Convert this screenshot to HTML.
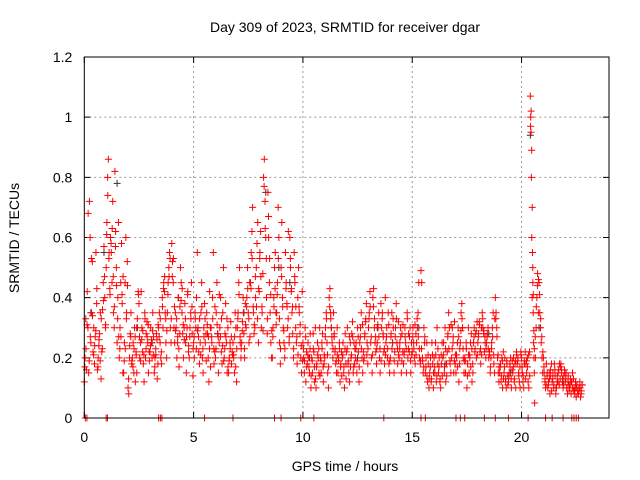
<!DOCTYPE html>
<html><head><meta charset="utf-8"><style>
body{margin:0;background:#fff;}
svg{display:block;font-family:"Liberation Sans",sans-serif;}
</style></head><body>
<svg id="chart" width="640" height="480">
<rect width="640" height="480" fill="#fff"/>
<text x="345" y="32" text-anchor="middle" font-size="14">Day 309 of 2023, SRMTID for receiver dgar</text>
<text x="345" y="471" text-anchor="middle" font-size="14">GPS time / hours</text>
<text transform="translate(19,238) rotate(-90)" text-anchor="middle" font-size="14">SRMTID / TECUs</text>
<g id="grid"></g>
<g id="ticks"></g>
<g id="black"></g>
<g id="red"></g>
<rect x="84.3" y="57" width="524.7" height="361" fill="none" stroke="#000" stroke-width="1"/>
</svg>
<script>
const xTicks=[0,5,10,15,20];
const yTicks=[0,0.2,0.4,0.6,0.8,1,1.2];
const yTickLabels=["0","0.2","0.4","0.6","0.8","1","1.2"];
const slotTimes=[0,0.2,0.4,0.6,0.8,1,1.2,1.4,1.6,1.8,2,2.2,2.4,2.6,2.8,3,3.2,3.4,3.6,3.8,4,4.2,4.4,4.6,4.8,5,5.2,5.4,5.6,5.8,6,6.2,6.4,6.6,6.8,7,7.2,7.4,7.6,7.8,8,8.2,8.4,8.6,8.8,9,9.2,9.4,9.6,9.8,10,10.2,10.4,10.6,10.8,11,11.2,11.4,11.6,11.8,12,12.2,12.4,12.6,12.8,13,13.2,13.4,13.6,13.8,14,14.2,14.4,14.6,14.8,15,15.2,15.4,15.6,15.8,16,16.2,16.4,16.6,16.8,17,17.2,17.4,17.6,17.8,18,18.2,18.4,18.6,18.8,19,19.2,19.4,19.6,19.8,20,20.2,20.4,20.5,20.6,20.8,21,21.2,21.4,21.6,21.8,22,22.2,22.4,22.6];
const redValues=[
[.12,.2,.33,.16,.42,.3],[.15,.72,.6,.25,.35,.52],[.22,.3,.18,.27,.55,.38],[.16,.2,.24,.28,.35,.13],[.22,.36,.45,.57,.4,.3],
[.5,.65,.8,.86,.55,.43],[.6,.55,.45,.72,.35,.3],[.82,.62,.5,.25,.4,.65],[.2,.3,.45,.58,.38,.15],[.15,.25,.45,.6,.35,.52],
[.1,.08,.2,.28,.35,.18],[.2,.25,.15,.3,.12,.22],[.15,.3,.42,.38,.2,.25],[.42,.3,.22,.18,.12,.35],[.2,.28,.32,.25,.15,.22],
[.22,.3,.25,.2,.35,.27],[.15,.2,.23,.28,.13,.18],[.3,.35,.25,.2,.18,.4],[.3,.45,.42,.35,.25,.2],[.35,.45,.5,.55,.3,.25],
[.58,.52,.45,.3,.25,.35],[.3,.2,.25,.4,.17,.28],[.5,.45,.35,.28,.2,.3],[.38,.25,.15,.3,.42,.22],[.2,.3,.35,.45,.28,.14],
[.25,.2,.35,.3,.4,.55],[.3,.22,.18,.25,.35,.45],[.2,.15,.3,.38,.25,.28],[.35,.28,.2,.12,.42,.3],[.3,.25,.4,.55,.18,.22],
[.2,.35,.45,.28,.15,.25],[.3,.4,.22,.18,.35,.5],[.2,.28,.38,.25,.15,.3],[.15,.2,.25,.32,.18,.22],[.25,.2,.15,.35,.3,.12],
[.3,.35,.45,.5,.25,.2],[.25,.32,.4,.28,.2,.38],[.3,.4,.5,.35,.25,.45],[.45,.55,.62,.7,.35,.28],[.3,.4,.5,.58,.65,.25],
[.42,.55,.62,.3,.35,.48],[.8,.86,.72,.6,.4,.28],[.75,.6,.45,.35,.25,.2],[.2,.3,.4,.5,.55,.35],[.35,.45,.7,.6,.25,.18],
[.5,.65,.4,.3,.25,.2],[.55,.45,.38,.3,.62,.25],[.6,.5,.42,.35,.28,.2],[.55,.45,.3,.25,.18,.4],[.5,.35,.28,.2,.15,.42],
[.25,.2,.15,.3,.12,.22],[.18,.25,.2,.15,.28,.1],[.2,.15,.28,.22,.12,.3],[.1,.18,.25,.2,.15,.3],[.2,.15,.25,.28,.12,.18],
[.2,.3,.35,.25,.15,.1],[.4,.43,.35,.3,.25,.2],[.35,.28,.22,.18,.15,.3],[.15,.2,.25,.12,.18,.22],[.2,.25,.15,.1,.28,.18],
[.22,.3,.18,.15,.12,.25],[.2,.28,.32,.15,.25,.18],[.2,.25,.15,.3,.22,.12],[.25,.3,.35,.2,.15,.22],[.2,.28,.32,.38,.25,.18],
[.3,.35,.42,.25,.2,.15],[.4,.43,.3,.25,.22,.18],[.25,.3,.35,.2,.15,.38],[.3,.35,.28,.22,.18,.4],[.25,.3,.2,.35,.18,.15],
[.2,.28,.35,.25,.3,.15],[.22,.3,.38,.25,.18,.32],[.2,.25,.3,.15,.28,.22],[.18,.22,.3,.25,.15,.35],[.2,.28,.22,.3,.15,.25],
[.22,.3,.25,.2,.18,.28],[.25,.3,.35,.45,.2,.18],[.49,.45,.2,.15,.3,.25],[.15,.2,.25,.12,.18,.1],[.15,.2,.12,.25,.18,.1],
[.2,.15,.25,.12,.3,.18],[.15,.2,.12,.1,.18,.25],[.2,.25,.15,.3,.12,.18],[.22,.28,.35,.3,.18,.15],[.2,.3,.25,.15,.32,.18],
[.15,.2,.25,.3,.12,.18],[.25,.35,.38,.3,.2,.15],[.2,.15,.25,.1,.18,.3],[.15,.2,.25,.28,.12,.18],[.25,.3,.22,.28,.2,.32],
[.25,.28,.32,.22,.18,.3],[.35,.3,.28,.22,.25,.2],[.25,.28,.3,.2,.22,.15],[.2,.25,.3,.35,.18,.15],[.4,.35,.3,.2,.15,.12],
[.15,.18,.12,.2,.1,.22],[.15,.2,.12,.1,.18,.14],[.12,.15,.18,.2,.1,.16],[.15,.2,.12,.18,.1,.22],[.18,.2,.15,.12,.1,.22],
[.2,.15,.12,.1,.18,.22],[.18,.15,.2,.12,.1,.22],[1.07,1.0,.95,.8,.6,.4],[.55,.45,.35,.25,.2,.15],[.05,.2,.3,.4,.48,.35],
[.45,.35,.3,.25,.2,.15],[.2,.15,.12,.1,.18,.14],[.1,.12,.15,.08,.14,.18],[.12,.15,.1,.18,.14,.08],[.1,.14,.12,.16,.18,.13],
[.18,.15,.12,.1,.14,.16],[.12,.15,.1,.08,.14,.11],[.1,.13,.08,.12,.15,.09],[.1,.08,.12,.07,.11,.09],[.08,.1,.12,.07,.09,.11]];
const redValues2=[
[.17,.23,.31,.68],[.19,.27,.53,.34],[.21,.24,.29,.43],[.17,.26,.19,.33],[.23,.39,.47,.31],
[.61,.74,.53,.41],[.58,.63,.47,.37],[.57,.44,.33,.27],[.23,.27,.41,.47],[.19,.23,.33,.44],
[.13,.24,.27,.19],[.17,.23,.27,.21],[.33,.41,.27,.19],[.26,.29,.21,.33],[.23,.27,.31,.19],
[.24,.26,.29,.21],[.17,.21,.26,.31],[.27,.33,.22,.37],[.43,.47,.33,.29],[.41,.47,.53,.33],
[.47,.53,.37,.29],[.33,.27,.23,.37],[.39,.43,.31,.26],[.33,.27,.41,.24],[.27,.33,.37,.23],
[.27,.33,.23,.29],[.27,.33,.21,.37],[.23,.27,.33,.19],[.31,.27,.23,.17],[.27,.33,.23,.37],
[.23,.31,.27,.41],[.27,.33,.24,.19],[.23,.27,.33,.17],[.19,.23,.27,.21],[.21,.27,.17,.23],
[.33,.41,.27,.23],[.29,.35,.23,.31],[.37,.43,.33,.27],[.43,.53,.37,.31],[.47,.37,.33,.43],
[.53,.47,.37,.29],[.77,.63,.53,.33],[.67,.53,.41,.29],[.27,.37,.43,.31],[.41,.53,.33,.23],
[.47,.37,.29,.23],[.43,.37,.33,.27],[.53,.43,.37,.23],[.47,.37,.27,.21],[.37,.31,.24,.19],
[.23,.19,.27,.17],[.21,.17,.23,.14],[.19,.23,.17,.13],[.17,.21,.23,.14],[.19,.23,.17,.21],
[.27,.33,.21,.17],[.37,.33,.27,.23],[.27,.23,.19,.21],[.19,.23,.17,.14],[.21,.17,.23,.13],
[.23,.19,.27,.17],[.21,.27,.17,.23],[.23,.19,.27,.17],[.27,.23,.31,.19],[.27,.33,.21,.23],
[.33,.37,.27,.21],[.37,.33,.27,.23],[.31,.27,.23,.19],[.33,.27,.23,.21],[.27,.23,.31,.19],
[.27,.23,.33,.19],[.27,.33,.23,.21],[.23,.27,.19,.31],[.21,.27,.23,.33],[.23,.27,.19,.21],
[.27,.23,.31,.21],[.33,.27,.23,.19],[.23,.19,.17,.27],[.17,.14,.21,.13],[.17,.13,.21,.15],
[.17,.21,.14,.23],[.17,.13,.21,.14],[.21,.17,.23,.14],[.27,.23,.19,.31],[.23,.27,.19,.21],
[.21,.17,.27,.23],[.29,.33,.23,.19],[.19,.23,.14,.21],[.21,.17,.23,.15],[.27,.23,.29,.21],
[.27,.31,.23,.21],[.33,.29,.27,.23],[.27,.23,.21,.17],[.23,.27,.21,.33],[.33,.27,.21,.17],
[.17,.14,.19,.13],[.17,.13,.19,.11],[.14,.17,.13,.19],[.17,.13,.19,.21],[.19,.14,.17,.21],
[.17,.14,.19,.13],[.19,.17,.21,.14],[.97,1.02,.89,.7],[.5,.41,.29,.23],[.27,.37,.44,.46],
[.41,.33,.27,.22],[.17,.13,.11,.15],[.11,.13,.16,.09],[.13,.11,.16,.1],[.12,.15,.11,.17],
[.16,.13,.11,.15],[.13,.1,.12,.09],[.11,.12,.1,.13],[.09,.1,.11,.08],[.09,.1,.08,.11]];
const zeroTimes=[0.05,0.12,1.0,1.06,3.4,3.48,3.55,5.5,6.8,8.7,9.0,9.9,10.5,13.7,15.4,15.6,17.0,17.2,17.4,18.3,18.8,19.4,20.3,21.1,21.4,21.9,22.3,22.4,22.5,22.6];
const blackTimes=[0.3,0.9,1.5,2.4,3.1,4.3,5.2,6.1,7.3,8.3,8.9,9.4,10.3,11.3,12.5,13.4,14.1,15.3,16.5,17.3,18.5,19.5,20.4,20.8,21.9,22.5];
const blackValues=[0.35,0.55,0.78,0.3,0.25,0.4,0.3,0.28,0.35,0.75,0.5,0.45,0.2,0.3,0.2,0.3,0.25,0.3,0.18,0.3,0.28,0.15,0.94,0.3,0.12,0.1];

const X0=84.3,X1=609,Y0=418,Y1=57,XMAX=24,YMAX=1.2;
const xs=t=>X0+t/XMAX*(X1-X0);
const ys=v=>Y0-v/YMAX*(Y0-Y1);
const NS="http://www.w3.org/2000/svg";
const grid=document.getElementById('grid'),ticks=document.getElementById('ticks');
function mk(tag,attrs,parent){const e=document.createElementNS(NS,tag);for(const k in attrs)e.setAttribute(k,attrs[k]);parent.appendChild(e);return e;}
xTicks.forEach(t=>{const x=xs(t);
 if(t>0){const g=mk('line',{x1:x,x2:x,y1:Y0,y2:Y1,stroke:'#999','stroke-dasharray':'2,3'},grid);
 
 }
 const tk=mk('path',{d:`M${x},${Y0}v-6M${x},${Y1}v6`,stroke:'#000'},ticks);
 
 
 const lb=mk('text',{x:x,y:Y0+24,'text-anchor':'middle','font-size':14},ticks);lb.textContent=String(t);
 
 });
yTicks.forEach((v,i)=>{const y=ys(v);
 if(v>0&&v<YMAX){const g=mk('line',{x1:X0,x2:X1,y1:y,y2:y,stroke:'#999','stroke-dasharray':'2,3'},grid);
 
 }
 const tk=mk('path',{d:`M${X0},${y}h6M${X1},${y}h-6`,stroke:'#000'},ticks);
 
 
 const lb=mk('text',{x:X0-12,y:y+5,'text-anchor':'end','font-size':14},ticks);lb.textContent=yTickLabels[i];
 
 });
function plus(g,t,v,col){const x=xs(t),y=ys(v);
 const p=mk('path',{d:`M${x-3.5},${y}h7M${x},${y-3.5}v7`,stroke:col,'stroke-width':1},g);
 
 }
const red=document.getElementById('red'),black=document.getElementById('black');
blackTimes.forEach((t,i)=>plus(black,t,blackValues[i],'#333'));
slotTimes.forEach((t,i)=>{const w=(i+1<slotTimes.length?slotTimes[i+1]-t:0.2);
 const vals=redValues[i];
 vals.forEach((v,j)=>{plus(red,t+w*j/vals.length,v,'#f00');});
 const vals2=redValues2[i];
 vals2.forEach((v,j)=>{plus(red,t+w*(j+0.5)/vals2.length,v,'#f00');});});
zeroTimes.forEach(t=>plus(red,t,0,'#f00'));
</script>
</body></html>
